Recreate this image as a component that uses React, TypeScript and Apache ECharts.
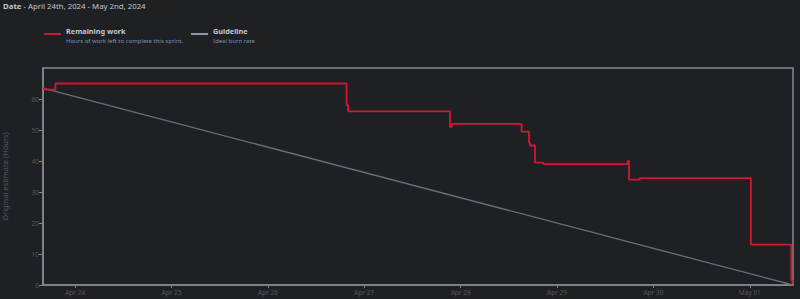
import React, { useEffect, useRef } from "react";
import * as echarts from "echarts";

const workTimes = [
  "2024-04-23 16:00", "2024-04-23 16:20", "2024-04-23 19:05", "2024-04-26 19:35",
  "2024-04-26 20:00", "2024-04-27 21:20", "2024-04-27 21:50", "2024-04-28 15:10",
  "2024-04-28 17:00", "2024-04-28 17:15", "2024-04-28 18:30", "2024-04-28 20:35",
  "2024-04-29 17:35", "2024-04-29 17:55", "2024-04-29 20:35", "2024-05-01 00:15",
  "2024-05-01 10:20", "2024-05-01 10:40",
];
const workValues = [63.5, 63, 65, 58, 56, 51, 52, 49.5, 46, 45, 39.5, 39, 40, 34, 34.5, 13, 1.5, 0.5];

const guideTimes = ["2024-04-23 16:00", "2024-05-01 10:45"];
const guideValues = [63.5, 0];

const axisStart = "2024-04-23 16:00";
const axisEnd = "2024-05-01 10:45";
const monthNames = ["Jan", "Feb", "Mar", "Apr", "May", "Jun", "Jul", "Aug", "Sep", "Oct", "Nov", "Dec"];

const FONT = "'Noto Sans', 'DejaVu Sans', sans-serif";

export default function App() {
  const ref = useRef<HTMLDivElement>(null);
  useEffect(() => {
    document.body.style.margin = "0";
    document.body.style.background = "#1e2024";
    const chart = echarts.init(ref.current!, null, { renderer: "svg" });
    chart.setOption({
      animation: false,
      backgroundColor: "#1e2024",
      textStyle: { fontFamily: FONT },
      graphic: [
        {
          type: "text",
          x: 3,
          y: 6,
          style: {
            text: "{b|Date} - April 24th, 2024 - May 2nd, 2024",
            fill: "#c3c7ce",
            font: `7.8px ${FONT}`,
            verticalAlign: "middle",
            rich: { b: { fontWeight: "bold", fill: "#c3c7ce", fontSize: 7.8, fontFamily: FONT } },
          },
        },
        { type: "line", shape: { x1: 44, y1: 34, x2: 61, y2: 34 }, style: { stroke: "#d0192e", lineWidth: 2 } },
        { type: "text", x: 66, y: 31, style: { text: "Remaining work", fill: "#c3c7ce", font: `bold 7.3px ${FONT}`, verticalAlign: "middle" } },
        { type: "text", x: 66, y: 41, style: { text: "Hours of work left to complete this sprint.", fill: "#7f93a8", font: `6px ${FONT}`, verticalAlign: "middle" } },
        { type: "line", shape: { x1: 191, y1: 34, x2: 208, y2: 34 }, style: { stroke: "#8f96a2", lineWidth: 2 } },
        { type: "text", x: 213, y: 31, style: { text: "Guideline", fill: "#c3c7ce", font: `bold 7.3px ${FONT}`, verticalAlign: "middle" } },
        { type: "text", x: 213, y: 41, style: { text: "Ideal burn rate", fill: "#7f93a8", font: `6px ${FONT}`, verticalAlign: "middle" } },
      ],
      grid: {
        left: 43,
        top: 68,
        right: 7,
        bottom: 14,
        show: true,
        borderColor: "#85888c",
        borderWidth: 1.5,
        backgroundColor: "transparent",
        containLabel: false,
        outerBoundsMode: "none",
      },
      xAxis: {
        type: "time",
        min: axisStart,
        max: axisEnd,
        minInterval: 86400000,
        maxInterval: 86400000,
        axisLine: { show: true, lineStyle: { color: "#85888c", width: 1.5 } },
        axisTick: { show: true, length: 3, lineStyle: { color: "#85888c" } },
        splitLine: { show: false },
        axisLabel: {
          color: "#55595f",
          fontSize: 6.5,
          margin: 4,
          hideOverlap: false,
          formatter: (v: number) => {
            const d = new Date(v);
            const day = d.getDate();
            return monthNames[d.getMonth()] + " " + (day < 10 ? "0" + day : "" + day);
          },
        },
      },
      yAxis: {
        type: "value",
        min: 0,
        max: 70,
        interval: 10,
        name: "Original estimate (Hours)",
        nameLocation: "middle",
        nameGap: 34,
        nameTextStyle: { color: "#55595f", fontSize: 7.5 },
        axisLine: { show: true, lineStyle: { color: "#85888c", width: 1.5 } },
        axisTick: { show: true, length: 4, lineStyle: { color: "#85888c" } },
        splitLine: { show: false },
        axisLabel: { color: "#55595f", fontSize: 6.5, margin: 4, showMaxLabel: false },
      },
      series: [
        {
          name: "Guideline",
          type: "line",
          data: guideTimes.map((t, i) => [t, guideValues[i]]),
          showSymbol: false,
          lineStyle: { color: "#6c6f74", width: 1.3 },
          z: 2,
        },
        {
          name: "Remaining work",
          type: "line",
          step: "end",
          data: workTimes.map((t, i) => [t, workValues[i]]),
          showSymbol: false,
          lineStyle: { color: "#d0192e", width: 1.8 },
          z: 3,
        },
      ],
    });
    return () => chart.dispose();
  }, []);
  return <div ref={ref} style={{ width: 800, height: 299 }} />;
}
